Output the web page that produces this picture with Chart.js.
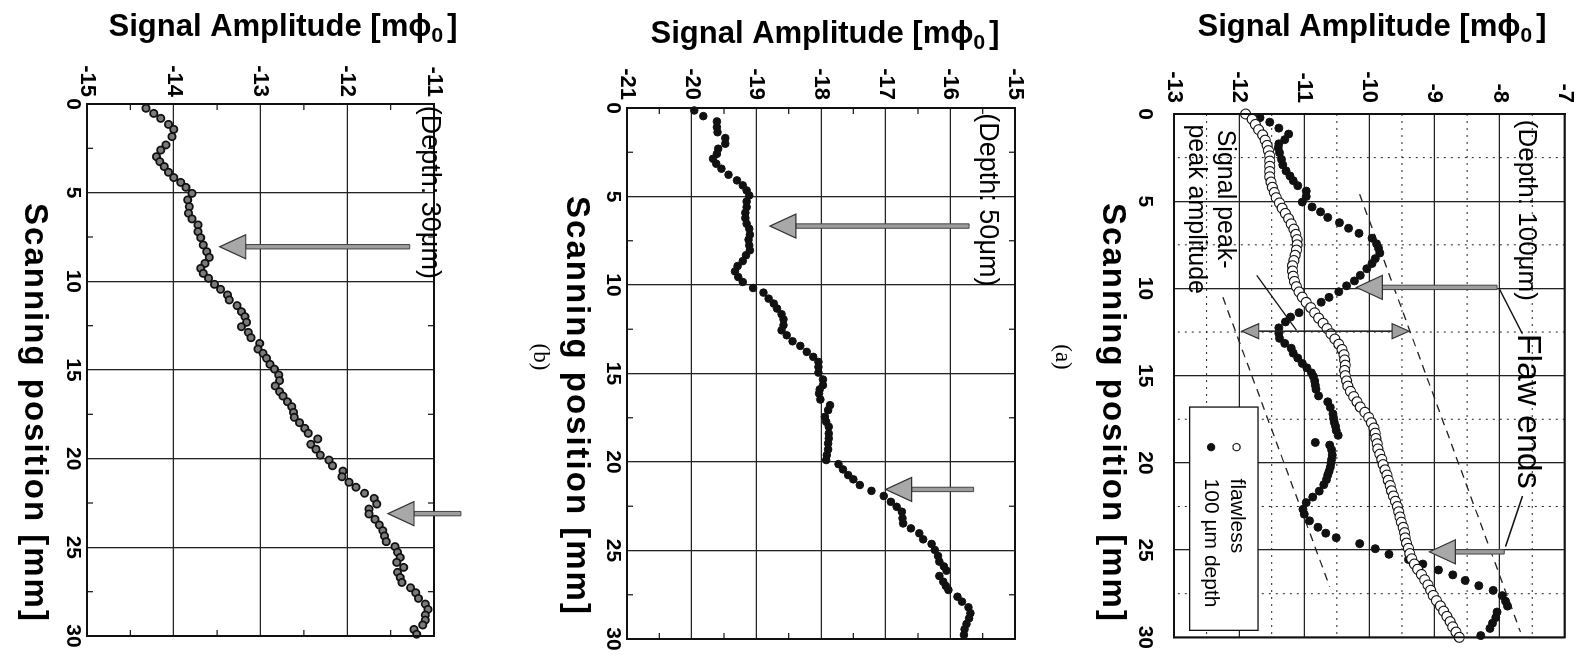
<!DOCTYPE html>
<html>
<head>
<meta charset="utf-8">
<title>Signal amplitude vs scanning position</title>
<script src="https://cdn.jsdelivr.net/npm/chart.js@4.4.1/dist/chart.umd.min.js"></script>
<style>
  html, body { margin:0; padding:0; background:#fff; width:1589px; height:666px; overflow:hidden; }
  #rot { position:absolute; left:0; top:0; width:666px; height:1589px; transform-origin:0 0; transform:translate(1589px,0) rotate(90deg); }
  #rot canvas { position:absolute; left:0; }
</style>
</head>
<body>
<div id="rot">
  <canvas id="chartA"></canvas>
  <canvas id="chartB"></canvas>
  <canvas id="chartC"></canvas>
</div>
<script>
// ---------------- tick labels ----------------
const positionTicks = [0, 5, 10, 15, 20, 25, 30];
const positionMinor = [2.5, 7.5, 12.5, 17.5, 22.5, 27.5];
const amplitudeTicksA = [-13, -12, -11, -10, -9, -8, -7];
const amplitudeMinorA = [-12.5, -11.5, -10.5, -9.5, -8.5, -7.5];
const amplitudeTicksB = [-21, -20, -19, -18, -17, -16, -15];
const amplitudeMinorB = [-20.5, -19.5, -18.5, -17.5, -16.5, -15.5];
const amplitudeTicksC = [-15, -14, -13, -12, -11];
const amplitudeMinorC = [-14.5, -13.5, -12.5, -11.5];

const titlePosition = 'Scanning position [mm]';
const titleAmplitudeMain = 'Signal Amplitude [mϕ';
const titleAmplitudeSub = '0';
const titleAmplitudeEnd = ']';

// ---------------- (a) depth 100 µm ----------------
const flawlessPosA = [0,0.3,0.6,0.9,1.2,1.5,1.8,2.1,2.4,2.7,
3,3.3,3.6,3.9,4.2,4.5,4.8,5.1,5.4,5.7,
6,6.3,6.6,6.9,7.2,7.5,7.8,8.1,8.4,8.7,
9,9.3,9.6,9.9,10.2,10.5,10.8,11.1,11.4,11.7,
12,12.3,12.6,12.9,13.2,13.5,13.8,14.1,14.4,14.7,
15,15.3,15.6,15.9,16.2,16.5,16.8,17.1,17.4,17.7,
18,18.3,18.6,18.9,19.2,19.5,19.8,20.1,20.4,20.7,
21,21.3,21.6,21.9,22.2,22.5,22.8,23.1,23.4,23.7,
24,24.3,24.6,24.9,25.2,25.5,25.8,26.1,26.4,26.7,
27,27.3,27.6,27.9,28.2,28.5,28.8,29.1,29.4,29.7,30];
const flawlessAmpA = [-11.90,-11.80,-11.75,-11.70,-11.64,-11.60,-11.57,-11.55,-11.53,-11.53,
-11.53,-11.53,-11.53,-11.51,-11.49,-11.46,-11.43,-11.38,-11.34,-11.29,
-11.24,-11.20,-11.16,-11.13,-11.11,-11.11,-11.12,-11.14,-11.16,-11.18,
-11.18,-11.17,-11.15,-11.12,-11.08,-11.03,-10.97,-10.90,-10.84,-10.78,
-10.71,-10.65,-10.59,-10.53,-10.47,-10.42,-10.39,-10.38,-10.37,-10.38,
-10.37,-10.35,-10.33,-10.29,-10.24,-10.19,-10.14,-10.07,-10.01,-9.97,
-9.93,-9.91,-9.90,-9.88,-9.87,-9.84,-9.81,-9.79,-9.76,-9.73,
-9.71,-9.68,-9.66,-9.63,-9.60,-9.57,-9.55,-9.53,-9.51,-9.48,
-9.46,-9.45,-9.43,-9.40,-9.38,-9.35,-9.31,-9.26,-9.20,-9.15,
-9.10,-9.06,-9.02,-8.97,-8.91,-8.86,-8.81,-8.76,-8.72,-8.67,-8.62];

const depthPosA = [0.21,0.47,0.81,1.15,1.47,1.71,1.94,2.22,2.60,2.92,
3.26,3.55,3.82,4.11,4.42,4.73,5.05,5.33,5.61,5.93,
6.23,6.55,6.84,7.12,7.44,7.70,7.97,8.29,8.57,8.87,
9.25,9.57,9.85,10.19,10.51,10.79,11.15,11.39,11.64,11.92,
12.26,12.58,12.86,13.15,13.43,13.71,13.99,14.30,14.55,14.84,
15.05,15.31,15.55,15.78,16.16,16.50,16.82,17.19,17.45,17.67,
17.90,18.14,18.42,18.83,18.98,19.25,19.55,19.80,20.02,20.25,
20.49,20.70,20.96,21.25,21.62,21.96,22.28,22.66,22.94,23.32,
23.69,24.03,24.29,24.63,24.92,25.24,25.54,25.80,26.14,26.42,
26.74,27.04,27.31,27.61,27.93,28.21,28.55,28.87,29.19,29.49,
29.90];
const depthAmpA = [-11.68,-11.53,-11.39,-11.24,-11.30,-11.39,-11.40,-11.38,-11.35,-11.33,
-11.28,-11.22,-11.17,-11.10,-10.97,-10.97,-11.03,-10.88,-10.75,-10.64,
-10.46,-10.32,-10.16,-9.96,-9.89,-9.86,-9.84,-9.91,-9.96,-10.04,
-10.14,-10.23,-10.35,-10.47,-10.62,-10.74,-10.90,-11.08,-11.21,-11.29,
-11.39,-11.39,-11.38,-11.30,-11.20,-11.17,-11.10,-11.03,-10.96,-10.89,
-10.86,-10.84,-10.83,-10.82,-10.78,-10.64,-10.60,-10.56,-10.55,-10.54,
-10.52,-10.51,-10.48,-10.83,-10.61,-10.58,-10.57,-10.58,-10.59,-10.60,
-10.62,-10.64,-10.66,-10.70,-10.77,-10.87,-10.97,-11.02,-11.00,-10.92,
-10.79,-10.67,-10.51,-10.15,-9.91,-9.70,-9.40,-9.18,-8.94,-8.72,
-8.53,-8.32,-8.10,-7.96,-7.91,-7.88,-8.04,-8.06,-8.11,-8.15,
-8.29];

// peak-to-peak envelope (dashed)
const envUpperPosA = [4.6, 29.7];
const envUpperAmpA = [-10.15, -7.68];
const envLowerPosA = [10.5, 27.1];
const envLowerAmpA = [-12.25, -10.61];
// leader lines for the annotations
const leaderPosA = [[10.0, 12.6], [24.8, 21.9], [9.25, 12.4]];
const leaderAmpA = [[-8.01, -7.65], [-7.91, -7.65], [-11.73, -11.12]];
// arrows (position, tail amplitude, tip amplitude)
const arrowPosA = [9.94, 25.1];
const arrowTailA = [-8.04, -7.93];
const arrowTipA = [-10.20, -9.08];
const doubleArrowPosA = [12.45];
const doubleArrowEndsA = [[-11.96, -9.39]];

// ---------------- (b) depth 50 µm ----------------
const posB = [0.14,0.46,0.76,1.08,1.37,1.70,2.02,2.30,2.59,2.87,
3.15,3.43,3.77,4.09,4.37,4.66,4.94,5.28,5.60,5.92,
6.22,6.54,6.82,7.16,7.44,7.76,8.04,8.32,8.65,8.93,
9.23,9.55,9.83,10.17,10.43,10.77,11.05,11.33,11.65,11.94,
12.27,12.56,12.84,13.18,13.44,13.78,14.06,14.35,14.63,14.95,
15.34,15.66,15.90,16.13,16.47,16.79,17.07,17.45,17.73,18.01,
18.39,18.67,18.95,19.29,19.61,19.89,20.12,20.42,20.74,20.98,
21.30,21.63,21.92,22.25,22.53,22.81,23.18,23.47,23.75,24.03,
24.37,24.63,24.97,25.31,25.63,25.90,26.14,26.44,26.76,27.00,
27.23,27.61,27.89,28.21,28.54,28.83,29.15,29.45,29.77];
const ampB = [-19.96,-19.82,-19.61,-19.61,-19.60,-19.48,-19.48,-19.59,-19.61,-19.67,
-19.62,-19.54,-19.43,-19.30,-19.21,-19.15,-19.11,-19.15,-19.15,-19.17,
-19.17,-19.15,-19.11,-19.10,-19.12,-19.11,-19.10,-19.16,-19.21,-19.29,
-19.33,-19.28,-19.21,-19.05,-18.89,-18.81,-18.73,-18.68,-18.61,-18.58,
-18.58,-18.61,-18.53,-18.44,-18.32,-18.22,-18.12,-18.04,-18.04,-18.04,
-17.97,-17.97,-18.02,-18.03,-18.01,-17.86,-17.89,-17.94,-17.92,-17.88,
-17.88,-17.88,-17.89,-17.89,-17.91,-17.92,-17.73,-17.66,-17.58,-17.50,
-17.40,-17.22,-17.03,-16.92,-16.83,-16.75,-16.74,-16.73,-16.61,-16.48,
-16.42,-16.29,-16.24,-16.19,-16.17,-16.10,-16.06,-16.17,-16.11,-16.07,
-16.03,-15.89,-15.82,-15.72,-15.69,-15.71,-15.75,-15.78,-15.79];
const arrowPosB = [6.67, 21.55];
const arrowTailB = [-15.71, -15.64];
const arrowTipB = [-18.79, -17.00];

// ---------------- (c) depth 30 µm ----------------
const posC = [0.24,0.53,0.81,1.15,1.43,1.84,2.31,2.60,2.97,3.25,
3.53,3.85,4.15,4.42,4.70,5.04,5.41,5.79,6.16,6.48,
6.82,7.20,7.54,7.95,8.33,8.65,8.99,9.27,9.55,9.83,
10.17,10.45,10.77,11.05,11.37,11.71,11.99,12.31,12.56,12.88,
13.18,13.50,13.82,14.06,14.34,14.68,14.95,15.28,15.60,15.90,
16.22,16.47,16.79,17.07,17.39,17.67,17.97,18.29,18.57,18.89,
19.19,19.47,19.80,20.08,20.40,20.70,21.02,21.33,21.61,21.95,
22.24,22.56,22.84,23.12,23.42,23.74,24.06,24.36,24.68,24.96,
25.28,25.57,25.85,26.13,26.41,26.70,26.98,27.28,27.56,27.88,
28.20,28.50,28.82,29.10,29.38,29.63,29.90];
const ampC = [-14.32,-14.23,-14.15,-14.06,-14.00,-14.02,-14.09,-14.15,-14.20,-14.16,
-14.11,-14.06,-14.00,-13.92,-13.86,-13.79,-13.84,-13.82,-13.83,-13.79,
-13.72,-13.72,-13.69,-13.66,-13.62,-13.59,-13.64,-13.69,-13.66,-13.60,
-13.53,-13.46,-13.38,-13.36,-13.27,-13.22,-13.18,-13.16,-13.22,-13.14,
-13.11,-13.01,-13.03,-12.97,-12.93,-12.89,-12.84,-12.79,-12.78,-12.83,
-12.78,-12.74,-12.69,-12.64,-12.62,-12.61,-12.55,-12.49,-12.45,-12.34,
-12.42,-12.36,-12.31,-12.21,-12.17,-12.05,-12.06,-11.98,-11.90,-11.80,
-11.69,-11.66,-11.75,-11.75,-11.68,-11.63,-11.59,-11.57,-11.55,-11.45,
-11.42,-11.39,-11.43,-11.35,-11.42,-11.39,-11.37,-11.27,-11.21,-11.18,
-11.10,-11.07,-11.10,-11.10,-11.13,-11.23,-11.20];
const arrowPosC = [8.05, 23.1];
const arrowTailC = [-11.28, -10.69];
const arrowTipC = [-13.47, -11.53];

// ---------------- helpers ----------------
const FONT = '"Liberation Sans", Arial, Helvetica, sans-serif';
const INK = '#111';
const pts = (xs, ys) => xs.map((v, i) => ({x: v, y: ys[i]}));

function seg(ctx, x1, y1, x2, y2) { ctx.beginPath(); ctx.moveTo(x1, y1); ctx.lineTo(x2, y2); ctx.stroke(); }

function drawArrowHead(ctx, x, yBase, yTip, halfW, fill) {
  ctx.beginPath(); ctx.moveTo(x - halfW, yBase); ctx.lineTo(x + halfW, yBase); ctx.lineTo(x, yTip); ctx.closePath();
  ctx.fillStyle = fill; ctx.fill(); ctx.lineWidth = 1.2; ctx.strokeStyle = '#333'; ctx.stroke();
}

const extras = {
  id: 'extras',
  beforeDatasetsDraw(chart, args, o) {
    const {ctx, chartArea: ca, scales: {x, y}} = chart;
    ctx.save();
    ctx.strokeStyle = '#222';
    if (o.dotted) {
      ctx.lineWidth = 1; ctx.setLineDash([2, 5]);
      o.dotted.x.forEach(v => { const p = x.getPixelForValue(v); seg(ctx, p, ca.top, p, ca.bottom); });
      o.dotted.y.forEach(v => { const p = y.getPixelForValue(v); seg(ctx, ca.left, p, ca.right, p); });
      ctx.setLineDash([]);
    }
    if (o.minorTicks) {
      const L = 6; ctx.lineWidth = 1.3;
      o.minorTicks.x.forEach(v => { const p = x.getPixelForValue(v); seg(ctx, p, ca.top, p, ca.top + L); seg(ctx, p, ca.bottom, p, ca.bottom - L); });
      o.minorTicks.y.forEach(v => { const p = y.getPixelForValue(v); seg(ctx, ca.left, p, ca.left + L, p); seg(ctx, ca.right, p, ca.right - L, p); });
    }
    ctx.restore();
  },
  afterDatasetsDraw(chart, args, o) {
    const {ctx, chartArea: ca, scales: {x, y}} = chart;
    ctx.save();
    // frame
    ctx.strokeStyle = INK; ctx.lineWidth = 2;
    ctx.strokeRect(ca.left, ca.top, ca.right - ca.left, ca.bottom - ca.top);
    // gray block arrows
    (o.arrows || []).forEach(a => {
      a.pos.forEach((p, i) => {
        const px = x.getPixelForValue(p);
        const y1 = y.getPixelForValue(a.tail[i]), y2 = y.getPixelForValue(a.tip[i]);
        const dir = Math.sign(y2 - y1), hl = 26, hw = 12, sw = 2.2;
        const yb = y2 - dir * hl;
        ctx.fillStyle = '#9d9d9d'; ctx.strokeStyle = '#444'; ctx.lineWidth = 1;
        ctx.beginPath(); ctx.rect(px - sw, Math.min(y1, yb), 2 * sw, Math.abs(yb - y1)); ctx.fill(); ctx.stroke();
        drawArrowHead(ctx, px, yb, y2, hw, '#a8a8a8');
      });
    });
    // double-headed arrow
    (o.doubleArrows || []).forEach(a => {
      a.pos.forEach((p, i) => {
        const px = x.getPixelForValue(p);
        const ya = y.getPixelForValue(a.ends[i][0]), yb = y.getPixelForValue(a.ends[i][1]);
        const hl = 17, hw = 7.5, d = Math.sign(yb - ya);
        ctx.strokeStyle = '#222'; ctx.lineWidth = 1.6;
        seg(ctx, px, ya + d * hl, px, yb - d * hl);
        drawArrowHead(ctx, px, ya + d * hl, ya, hw, '#a0a0a0');
        drawArrowHead(ctx, px, yb - d * hl, yb, hw, '#a0a0a0');
      });
    });
    // in-plot texts
    ctx.fillStyle = '#000'; ctx.textBaseline = 'middle'; ctx.textAlign = 'left';
    (o.texts || []).forEach(t => {
      ctx.font = t.font;
      ctx.fillText(t.text, x.getPixelForValue(t.pos), y.getPixelForValue(t.amp));
    });
    // legend
    if (o.legend) {
      const L = o.legend;
      const x1 = x.getPixelForValue(L.box[0]), x2 = x.getPixelForValue(L.box[1]);
      const y1 = y.getPixelForValue(L.box[3]), y2 = y.getPixelForValue(L.box[2]);
      ctx.fillStyle = '#fff'; ctx.fillRect(x1, y1, x2 - x1, y2 - y1);
      ctx.strokeStyle = INK; ctx.lineWidth = 1.3; ctx.strokeRect(x1, y1, x2 - x1, y2 - y1);
      L.items.forEach(it => {
        const my = y.getPixelForValue(it.amp);
        ctx.beginPath(); ctx.arc(x.getPixelForValue(L.markerPos), my, 3.6, 0, Math.PI * 2);
        ctx.fillStyle = it.filled ? INK : '#fff'; ctx.fill();
        ctx.strokeStyle = INK; ctx.lineWidth = 1.1; ctx.stroke();
        ctx.fillStyle = '#000'; ctx.font = L.font; ctx.textAlign = 'left';
        ctx.fillText(it.text, x.getPixelForValue(L.textPos), my);
      });
    }
    ctx.restore();
  },
  afterDraw(chart, args, o) {
    const {ctx} = chart;
    ctx.save();
    ctx.fillStyle = '#000'; ctx.textBaseline = 'middle';
    // amplitude axis title (vertical in the unrotated chart), with a real subscript
    ctx.save();
    ctx.translate(o.ampTitle.u, o.ampTitle.v);
    ctx.rotate(-Math.PI / 2);
    const fMain = 'bold 31px ' + FONT, fSub = 'bold 21px ' + FONT;
    ctx.font = fMain; const w1 = ctx.measureText(titleAmplitudeMain).width, w3 = ctx.measureText(titleAmplitudeEnd).width;
    ctx.font = fSub; const w2 = ctx.measureText(titleAmplitudeSub).width;
    const gap = 4, total = w1 + w2 + gap + w3;
    let sx = -total / 2;
    ctx.textAlign = 'left';
    ctx.font = fMain; ctx.fillText(titleAmplitudeMain, sx, 0); sx += w1;
    ctx.font = fSub; ctx.fillText(titleAmplitudeSub, sx, 9); sx += w2 + gap;
    ctx.font = fMain; ctx.fillText(titleAmplitudeEnd, sx, 0);
    ctx.restore();
    // position axis title
    ctx.textAlign = 'center';
    ctx.font = 'bold 33px ' + FONT;
    ctx.letterSpacing = '2px';
    ctx.fillText(titlePosition, o.posTitle.u, o.posTitle.v);
    ctx.letterSpacing = '0px';
    if (o.panel) {
      ctx.font = '23px "Liberation Serif", "Times New Roman", serif';
      ctx.fillText(o.panel.text, o.panel.u, o.panel.v);
    }
    ctx.restore();
  }
};

function makeChart(id, L, ampTicks, datasets, extraOpts) {
  const cv = document.getElementById(id);
  cv.width = 666; cv.height = L.H; cv.style.top = L.top + 'px';
  cv.style.width = '666px'; cv.style.height = L.H + 'px';
  return new Chart(cv, {
    type: 'scatter',
    data: {datasets},
    options: {
      responsive: false, animation: false, devicePixelRatio: 1, events: [],
      layout: {padding: {left: 0, top: L.ctop, right: 666 - L.right, bottom: 0}},
      plugins: {legend: {display: false}, tooltip: {enabled: false}, extras: extraOpts},
      scales: {
        x: {
          type: 'linear', min: 0, max: 30,
          afterBuildTicks: s => { s.ticks = positionTicks.map(v => ({value: v})); },
          afterFit: s => { s.height = L.H - L.cbottom; },
          ticks: {font: {family: FONT, size: 21, weight: 'bold'}, color: '#000', padding: L.xTickPad, maxRotation: 0, autoSkip: false, callback: v => String(v)},
          grid: {color: '#222', lineWidth: 1.3, drawTicks: false},
          border: {display: true, color: INK, width: 2},
          title: {display: false}
        },
        y: {
          type: 'linear', min: ampTicks[0], max: ampTicks[ampTicks.length - 1],
          afterBuildTicks: s => { s.ticks = ampTicks.map(v => ({value: v})); },
          afterFit: s => { s.width = L.left; },
          ticks: {font: {family: FONT, size: 22, weight: 'bold'}, color: '#000', padding: L.yTickPad, autoSkip: false, callback: v => String(v)},
          grid: {color: '#222', lineWidth: 1.3, drawTicks: false},
          border: {display: true, color: INK, width: 2},
          title: {display: false}
        }
      }
    },
    plugins: [extras]
  });
}

// ---------------- panel (a) ----------------
makeChart('chartA',
  {top: 0, H: 545, left: 114, right: 645, ctop: 23, cbottom: 415, yTickPad: 11, xTickPad: 17},
  amplitudeTicksA,
  [
    {label: 'flawless', data: pts(flawlessPosA, flawlessAmpA), pointRadius: 5, pointBackgroundColor: '#fff', pointBorderColor: INK, pointBorderWidth: 1.1, clip: 8},
    {label: '100 µm depth', data: pts(depthPosA, depthAmpA), pointRadius: 4, pointBackgroundColor: INK, pointBorderColor: INK, pointBorderWidth: 1, clip: 8},
    {label: 'envelope upper', data: pts(envUpperPosA, envUpperAmpA), showLine: true, borderColor: '#222', borderWidth: 1.3, borderDash: [8, 6], pointRadius: 0},
    {label: 'envelope lower', data: pts(envLowerPosA, envLowerAmpA), showLine: true, borderColor: '#222', borderWidth: 1.3, borderDash: [8, 6], pointRadius: 0},
    ...leaderPosA.map((p, i) => ({label: 'leader ' + i, data: pts(p, leaderAmpA[i]), showLine: true, borderColor: '#111', borderWidth: 1.4, pointRadius: 0}))
  ],
  {
    dotted: {x: positionMinor, y: amplitudeMinorA},
    arrows: [{pos: arrowPosA, tail: arrowTailA, tip: arrowTipA}],
    doubleArrows: [{pos: doubleArrowPosA, ends: doubleArrowEndsA}],
    texts: [
      {text: '(Depth: 100μm)', pos: 0.33, amp: -7.60, font: '26px ' + FONT},
      {text: 'Flaw ends', pos: 12.6, amp: -7.58, font: '34px ' + FONT},
      {text: 'Signal peak-', pos: 0.9, amp: -12.22, font: '25px ' + FONT},
      {text: 'peak amplitude', pos: 0.6, amp: -12.66, font: '25px ' + FONT}
    ],
    legend: {box: [16.8, 29.6, -12.76, -11.71], markerPos: 19.1, textPos: 20.9, font: '21px ' + FONT,
      items: [{text: 'flawless', amp: -12.04, filled: false}, {text: '100 µm depth', amp: -12.43, filled: true}]},
    ampTitle: {u: 27, v: 217}, posTitle: {u: 413, v: 477}, panel: {text: '(a)', u: 357, v: 527}
  });

// ---------------- panel (b) ----------------
makeChart('chartB',
  {top: 545, H: 540, left: 108, right: 639, ctop: 29, cbottom: 417, yTickPad: 8, xTickPad: 2},
  amplitudeTicksB,
  [
    {label: '50 µm depth', data: pts(posB, ampB), pointRadius: 3.8, pointBackgroundColor: INK, pointBorderColor: INK, pointBorderWidth: 1, clip: 8}
  ],
  {
    minorTicks: {x: positionMinor, y: amplitudeMinorB},
    arrows: [{pos: arrowPosB, tail: arrowTailB, tip: arrowTipB}],
    texts: [{text: '(Depth: 50μm)', pos: 0.3, amp: -15.43, font: '27px ' + FONT}],
    ampTitle: {u: 34, v: 219}, posTitle: {u: 406, v: 468}, panel: {text: '(b)', u: 357, v: 504}
  });

// ---------------- panel (c) ----------------
makeChart('chartC',
  {top: 1085, H: 504, left: 104, right: 636, ctop: 70, cbottom: 417, yTickPad: 7, xTickPad: 2},
  amplitudeTicksC,
  [
    {label: '30 µm depth', data: pts(posC, ampC), pointRadius: 3.6, pointBackgroundColor: '#7a7a7a', pointBorderColor: INK, pointBorderWidth: 1.8, clip: 8}
  ],
  {
    minorTicks: {x: positionMinor, y: amplitudeMinorC},
    arrows: [{pos: arrowPosC, tail: arrowTailC, tip: arrowTipC}],
    texts: [{text: '(Depth: 30μm)', pos: 0.1, amp: -11.05, font: '27px ' + FONT}],
    ampTitle: {u: 27, v: 221}, posTitle: {u: 413, v: 470}
  });
</script>
</body>
</html>
